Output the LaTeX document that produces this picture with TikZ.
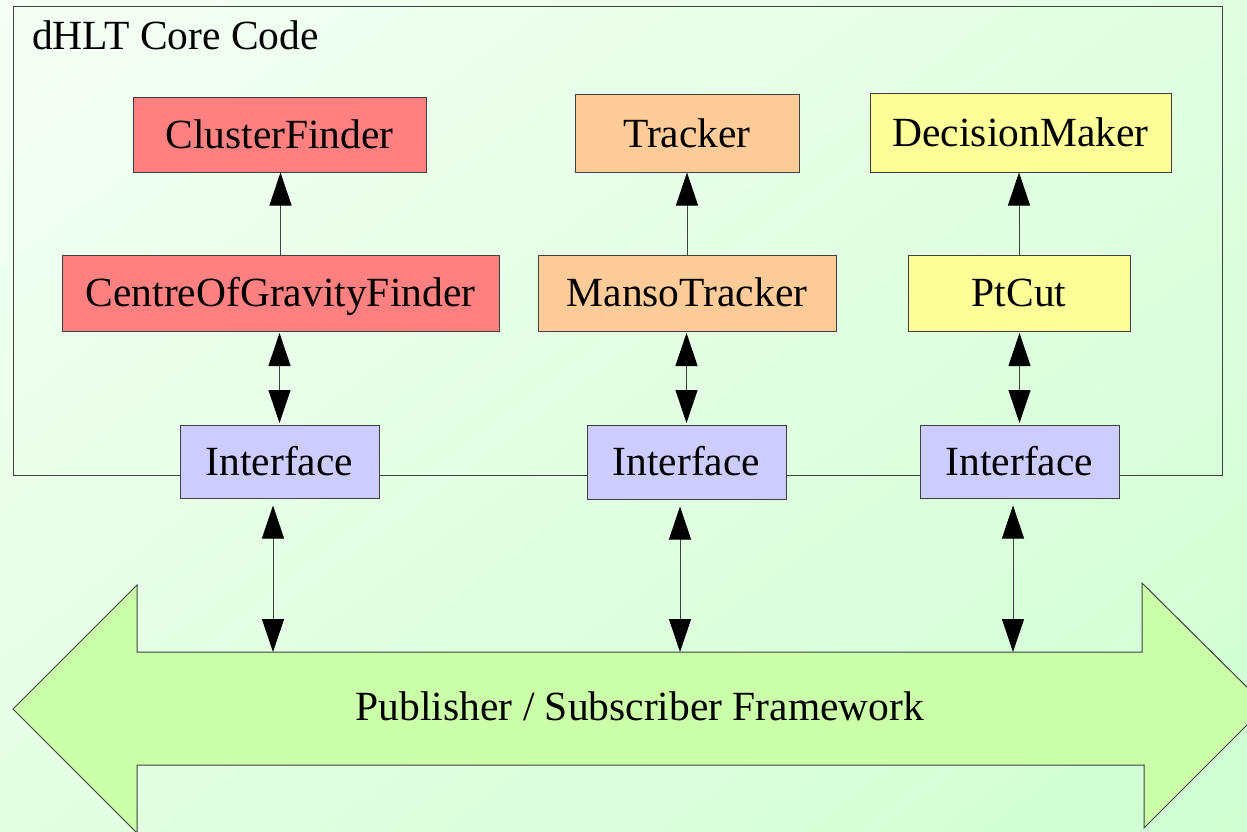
\documentclass[tikz,border=0pt]{standalone}
\usepackage{fontspec}
\setmainfont{Liberation Serif}
\usetikzlibrary{arrows.meta,shadings}
\definecolor{bgUL}{HTML}{F5FFF5}
\definecolor{bgUR}{HTML}{E2FFE2}
\definecolor{bgLL}{HTML}{E4FFE4}
\definecolor{bgLR}{HTML}{CFFFD2}
\definecolor{fwfill}{HTML}{CCFFAA}
\definecolor{redbox}{HTML}{FF8080}
\definecolor{orangebox}{HTML}{FFCC99}
\definecolor{yellowbox}{HTML}{FFFF99}
\definecolor{bluebox}{HTML}{CCCCFF}
\definecolor{edge}{HTML}{404040}
\tikzset{
  txt/.style={font=\fontsize{41.5}{48}\selectfont},
  blk/.style={draw=edge, line width=1pt, inner sep=0pt, txt,
    text height=27.5pt, text depth=0pt},
  onearr/.style={draw=edge, line width=1pt,
    -{Triangle[width=22pt,length=33pt,color=black]}},
  twoarr/.style={draw=edge, line width=1pt,
    {Triangle[width=22pt,length=33pt,color=black]}-{Triangle[width=22pt,length=33pt,color=black]}},
}
\begin{document}
\begin{tikzpicture}[x=1pt,y=-1pt]
\useasboundingbox (0,0) rectangle (1247,832);
\shade[upper left=bgUL, upper right=bgUR, lower left=bgLL, lower right=bgLR]
  (0,0) rectangle (1247,832);

% core code frame
\draw[edge, line width=1pt] (13,7) rectangle (1222,475);
\node[txt, anchor=base west, inner sep=0pt] (title) at (32,50) {dHLT Core Code};

% publisher / subscriber double arrow
\draw[edge, line width=1pt, fill=fwfill]
  (13,709) -- (137,585) -- (137,652) -- (1142,652) -- (1142,583) -- (1266,706)
  -- (1144,828) -- (1144,765) -- (137,765) -- (137,833) -- cycle;
\node[txt, anchor=base, inner sep=0pt] (fw) at (640,720.5) {Publisher / Subscriber Framework};
\coordinate (b1) at (273,652);
\coordinate (b2) at (680,652);
\coordinate (b3) at (1013,652);

% components
\node[blk, fill=redbox, minimum width=293pt, minimum height=74pt] (cf) at (279.5,135) {ClusterFinder};
\node[blk, fill=orangebox, minimum width=224pt, minimum height=77pt] (tr) at (687,133.5) {Tracker};
\node[blk, fill=yellowbox, minimum width=301pt, minimum height=78pt] (dm) at (1020.5,133) {DecisionMaker};
\node[blk, fill=redbox, minimum width=437pt, minimum height=76pt] (cog) at (280.5,293) {CentreOfGravityFinder};
\node[blk, fill=orangebox, minimum width=298pt, minimum height=76pt] (mt) at (687,293) {MansoTracker};
\node[blk, fill=yellowbox, minimum width=222pt, minimum height=76pt] (pt) at (1019,293) {PtCut};
\node[blk, fill=bluebox, minimum width=199pt, minimum height=73pt] (if1) at (279.5,461.5) {Interface};
\node[blk, fill=bluebox, minimum width=199pt, minimum height=74pt] (if2) at (686.5,462) {Interface};
\node[blk, fill=bluebox, minimum width=199pt, minimum height=73pt] (if3) at (1019.5,461.5) {Interface};

% algorithm chains
\draw[onearr] (cog.north) -- (cog.north |- cf.south);
\draw[onearr] (mt.north) -- (mt.north |- tr.south);
\draw[onearr] (pt.north) -- (pt.north |- dm.south);

\draw[twoarr, shorten <=1.5pt, shorten >=1.5pt] (cog.south -| if1.north) -- (if1.north);
\draw[twoarr, shorten <=1.5pt, shorten >=1.5pt] (mt.south -| if2.north) -- (if2.north);
\draw[twoarr, shorten <=1.5pt, shorten >=1.5pt] (pt.south -| if3.north) -- (if3.north);

% links to the framework
\draw[twoarr, shorten <=7pt] (if1.south -| b1) -- (b1);
\draw[twoarr, shorten <=7pt] (if2.south -| b2) -- (b2);
\draw[twoarr, shorten <=7pt] (if3.south -| b3) -- (b3);
\end{tikzpicture}
\end{document}
